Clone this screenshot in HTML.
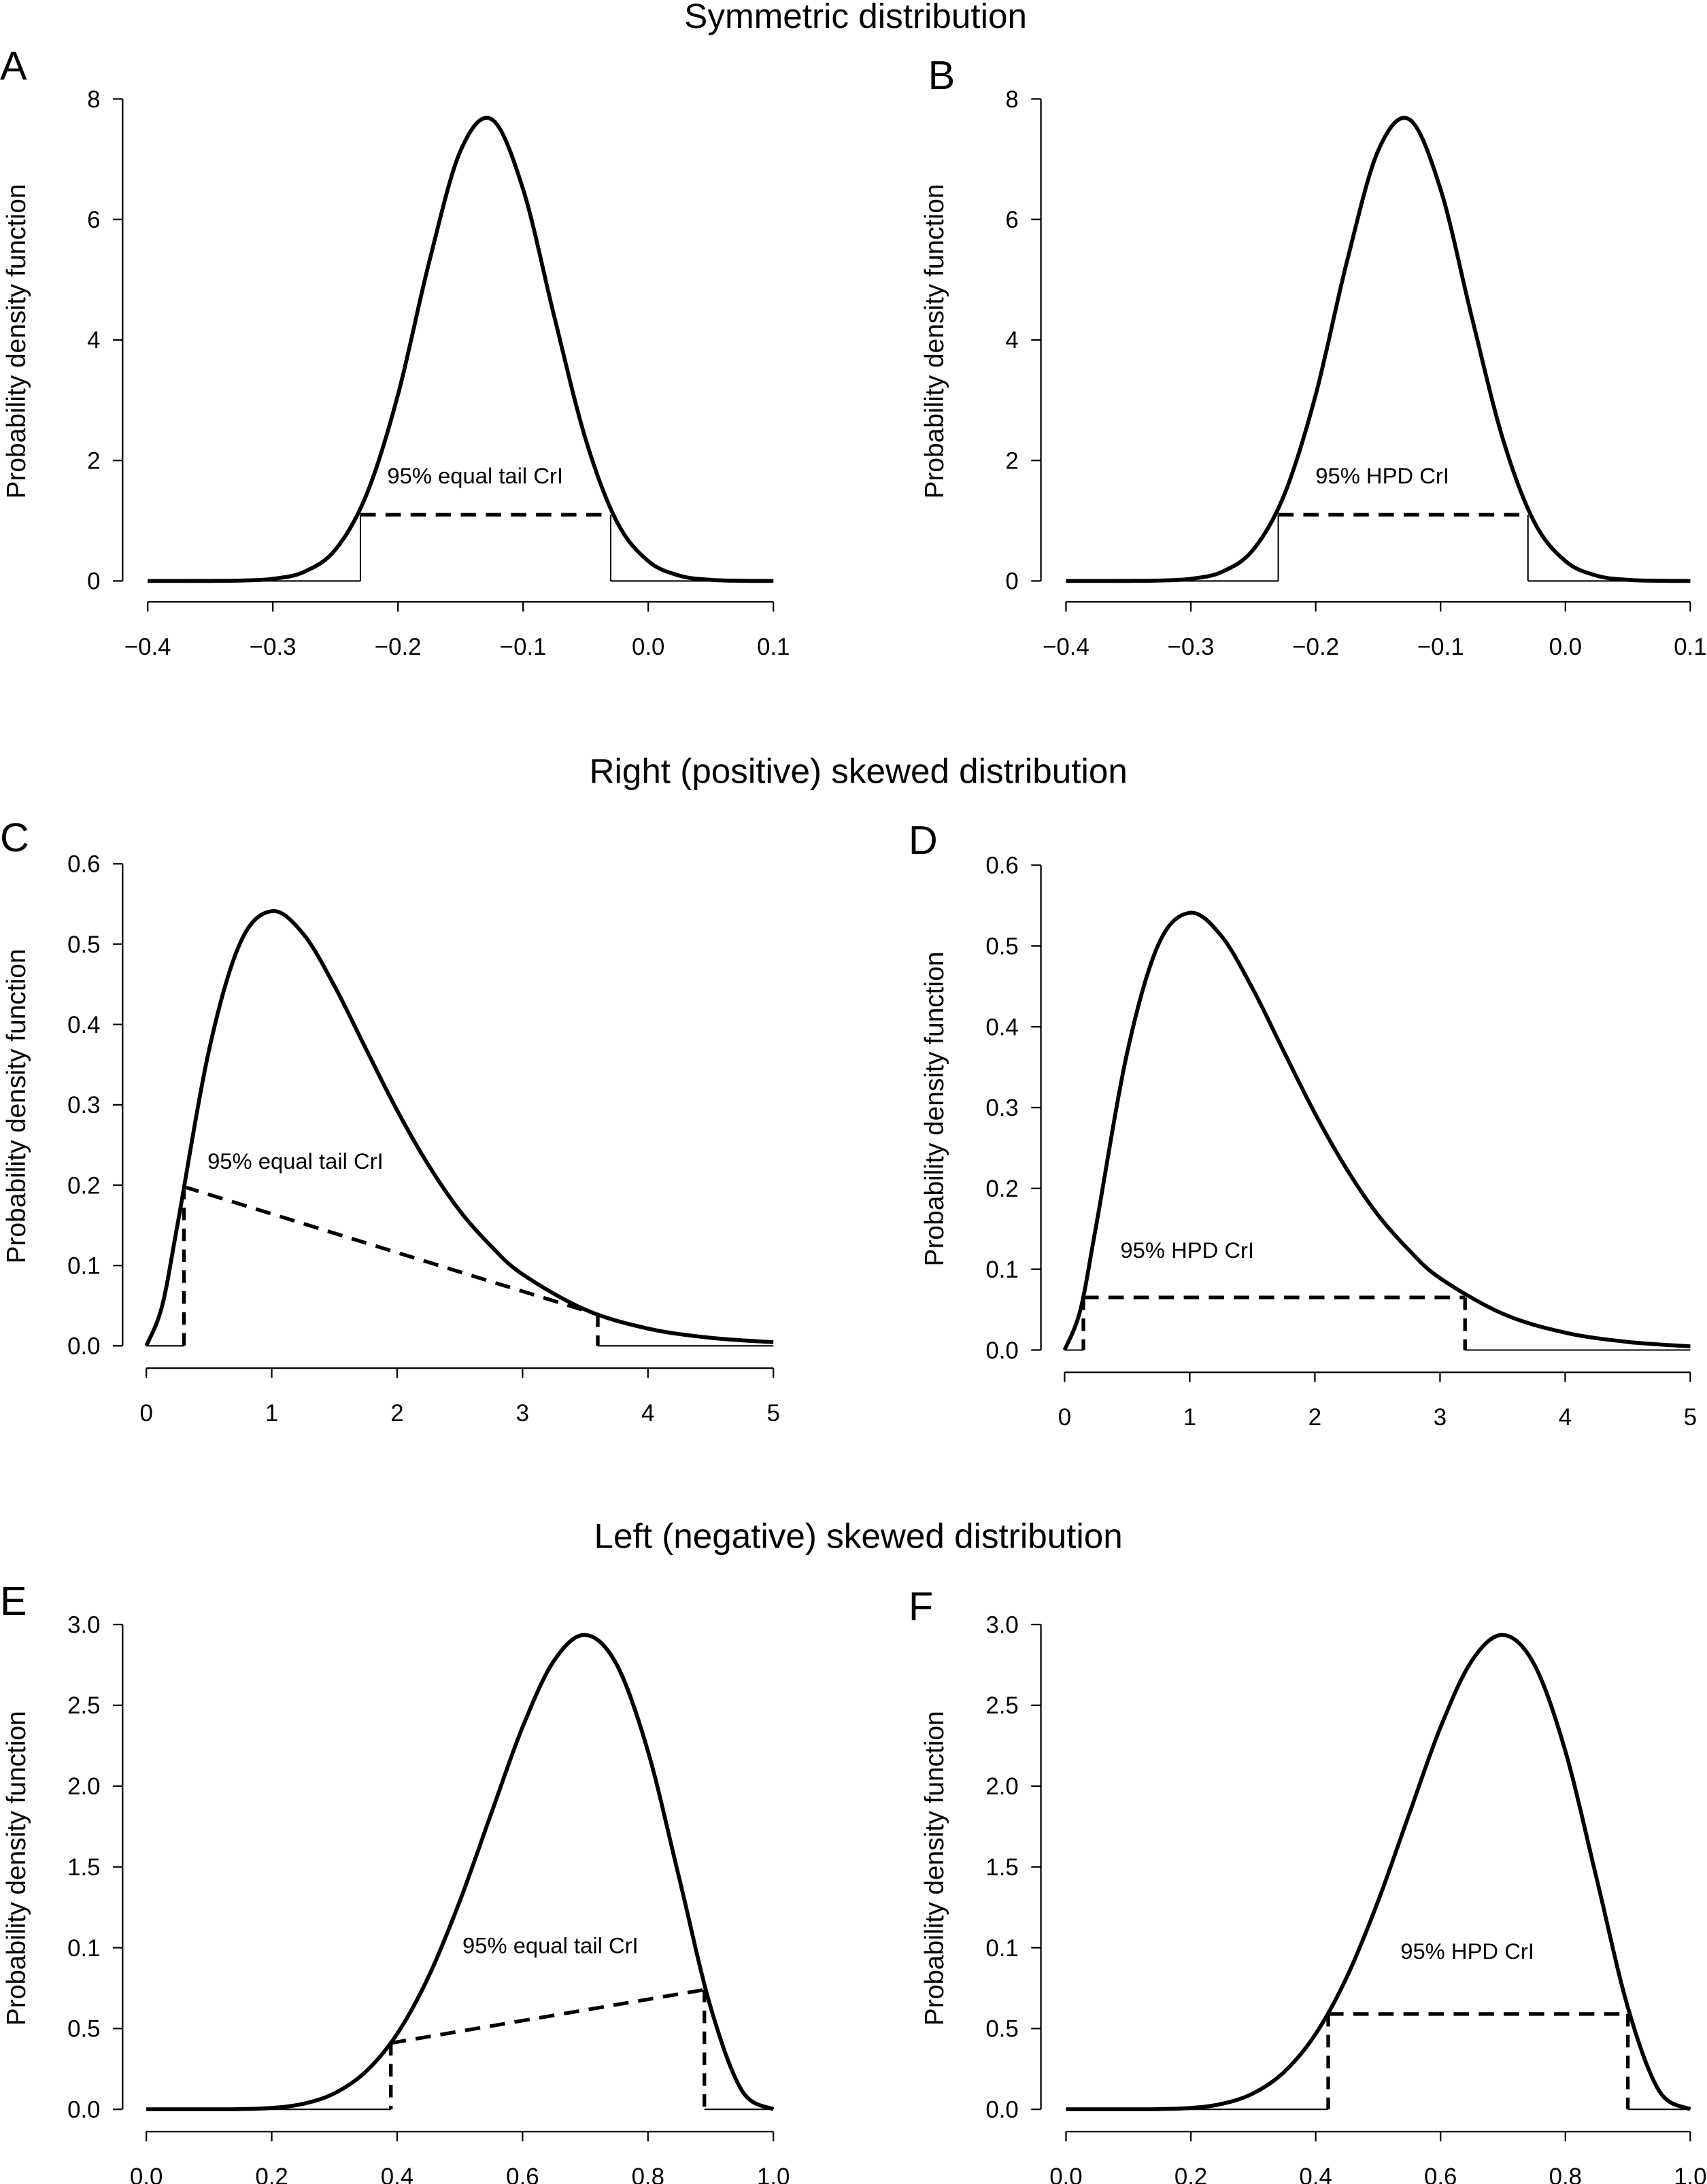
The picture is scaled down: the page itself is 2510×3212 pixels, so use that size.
<!DOCTYPE html>
<html><head><meta charset="utf-8"><style>
html,body{margin:0;padding:0;background:#fff}
svg{display:block}
text{font-family:"Liberation Sans",Arial,sans-serif;fill:#000}
</style></head><body>
<svg id="fig" width="2510" height="3212" viewBox="0 0 1225 1567.6" xmlns="http://www.w3.org/2000/svg">
<text x="614" y="20" font-size="25" text-anchor="middle">Symmetric distribution</text>
<text x="616" y="562" font-size="25" text-anchor="middle">Right (positive) skewed distribution</text>
<text x="616" y="1111" font-size="25" text-anchor="middle">Left (negative) skewed distribution</text>
</svg>
<script>
// ---- data ----
const symX = [-0.4,-0.375,-0.35,-0.325,-0.3,-0.275,-0.25,-0.225,-0.2,-0.175,-0.15,-0.125,-0.1,-0.075,-0.05,-0.025,0,0.025,0.05,0.075,0.1];
const symY = [0,0,0.001,0.007,0.036,0.152,0.52,1.44,3.09,5.30,7.14,7.66,6.5,4.38,2.35,0.98,0.33,0.088,0.019,0.003,0];
const rightX = [0,0.125,0.25,0.5,0.75,1,1.25,1.5,1.75,2,2.25,2.5,2.75,3,3.5,4,4.5,5];
const rightY = [0,0.049,0.152,0.368,0.502,0.541,0.513,0.448,0.370,0.293,0.225,0.168,0.124,0.089,0.045,0.0215,0.010,0.0045];
const leftX = [0,0.05,0.1,0.15,0.2,0.25,0.3,0.35,0.4,0.45,0.5,0.55,0.6,0.65,0.7,0.75,0.8,0.85,0.9,0.95,1];
const leftY = [0,0,0.0001,0.0014,0.0087,0.034,0.099,0.233,0.467,0.82,1.289,1.83,2.365,2.775,2.935,2.753,2.215,1.428,0.631,0.115,0];
const symXTicks = [-0.4,-0.3,-0.2,-0.1,0.0,0.1];
const symXLabels = ["\u22120.4","\u22120.3","\u22120.2","\u22120.1","0.0","0.1"];
const symYTicks = [0,2,4,6,8];
const symYLabels = ["0","2","4","6","8"];
const rXTicks = [0,1,2,3,4,5];
const rXLabels = ["0","1","2","3","4","5"];
const rYTicks = [0,0.1,0.2,0.3,0.4,0.5,0.6];
const rYLabels = ["0.0","0.1","0.2","0.3","0.4","0.5","0.6"];
const lXTicks = [0,0.2,0.4,0.6,0.8,1.0];
const lXLabels = ["0.0","0.2","0.4","0.6","0.8","1.0"];
const lYTicks = [0,0.5,1,1.5,2,2.5,3];
const lYLabels = ["0.0","0.5","0.1","1.5","2.0","2.5","3.0"];
// intervals: [lowX, lowY, highX, highY]
const intA = [-0.23,1.1,-0.03,1.1];
const intB = [-0.23,1.1,-0.03,1.1];
const intC = [0.3,0.198,3.6,0.039];
const intD = [0.15,0.065,3.2,0.065];
const intE = [0.39,0.41,0.89,0.74];
const intF = [0.42,0.59,0.90,0.59];

const NS="http://www.w3.org/2000/svg";
const svg=document.getElementById('fig');
function mk(tag,attrs,parent){const e=document.createElementNS(NS,tag);for(const k in attrs)e.setAttribute(k,attrs[k]);(parent||svg).appendChild(e);return e;}

function panel(cfg){
  const g=mk('g',{});
  
  
  const sx=v=>cfg.px0+(v-cfg.xmin)/(cfg.xmax-cfg.xmin)*(cfg.px1-cfg.px0);
  const sy=v=>cfg.py0-(v-cfg.ymin)/(cfg.ymax-cfg.ymin)*(cfg.py0-cfg.py1);
  const L=mk('text',{x:cfg.lx,y:cfg.ly,'font-size':29},g);L.textContent=cfg.letter;
  
  
  const ya=mk('line',{x1:cfg.ax,x2:cfg.ax,y1:sy(cfg.yt[0]),y2:sy(cfg.yt[cfg.yt.length-1]),stroke:'#000','stroke-width':1.1},g);
  
  
  cfg.yt.forEach((t,i)=>{
    mk('line',{x1:cfg.ax-7,x2:cfg.ax,y1:sy(t),y2:sy(t),stroke:'#000','stroke-width':1.1},g);
    const tx=mk('text',{x:cfg.ax-16,y:sy(t)+6,'font-size':17,'text-anchor':'end'},g);
    tx.textContent=cfg.yl[i];
    
    
  });
  const yt=mk('text',{x:0,y:0,'font-size':19,'text-anchor':'middle',transform:`translate(${cfg.ax-70},${(cfg.py0+cfg.py1)/2+1}) rotate(-90)`},g);
  yt.textContent='Probability density function';
  
  
  const xa=mk('line',{x1:sx(cfg.xt[0]),x2:sx(cfg.xt[cfg.xt.length-1]),y1:cfg.ay,y2:cfg.ay,stroke:'#000','stroke-width':1.1},g);
  
  
  cfg.xt.forEach((t,i)=>{
    mk('line',{x1:sx(t),x2:sx(t),y1:cfg.ay,y2:cfg.ay+7,stroke:'#000','stroke-width':1.1},g);
    const tx=mk('text',{x:sx(t),y:cfg.ay+38,'font-size':17,'text-anchor':'middle'},g);
    tx.textContent=cfg.xl[i];
    
    
  });
  const iv=cfg.iv;
  mk('path',{d:`M${sx(cfg.xmin)},${sy(0)}H${sx(iv[0])}M${sx(iv[2])},${sy(0)}H${sx(cfg.xmax)}`,stroke:'#000','stroke-width':1,fill:'none'},g);
  const dashV=cfg.dashV;
  const vAttrs={stroke:'#000','stroke-width':dashV?2.6:1,fill:'none'};
  if(dashV) vAttrs['stroke-dasharray']='9,6';
  mk('line',Object.assign({x1:sx(iv[0]),x2:sx(iv[0]),y1:sy(iv[1]),y2:sy(0)},vAttrs),g);
  mk('line',Object.assign({x1:sx(iv[2]),x2:sx(iv[2]),y1:sy(iv[3]),y2:sy(0)},vAttrs),g);
  const dl=mk('line',{x1:sx(iv[0]),y1:sy(iv[1]),x2:sx(iv[2]),y2:sy(iv[3]),stroke:'#000','stroke-width':2.6,'stroke-dasharray':'11,7'},g);
  
  
  const lt=mk('text',{x:cfg.tx,y:cfg.ty,'font-size':16,'text-anchor':'middle'},g);
  lt.textContent=cfg.label;
  
  
  const P=cfg.X.map((x,i)=>[sx(x),sy(cfg.Y[i])]);
  let d=`M${P[0][0]},${P[0][1]}`;
  for(let i=0;i<P.length-1;i++){
    const p0=P[Math.max(i-1,0)],p1=P[i],p2=P[i+1],p3=P[Math.min(i+2,P.length-1)];
    const c1=[p1[0]+(p2[0]-p0[0])/6,p1[1]+(p2[1]-p0[1])/6];
    const c2=[p2[0]-(p3[0]-p1[0])/6,p2[1]-(p3[1]-p1[1])/6];
    d+=`C${c1[0]},${c1[1]} ${c2[0]},${c2[1]} ${p2[0]},${p2[1]}`;
  }
  const c=mk('path',{d:d,stroke:'#000','stroke-width':2.8,fill:'none','stroke-linejoin':'round'},g);
  
  
}

panel({letter:'A',lx:0,ly:57,X:symX,Y:symY,xmin:-0.4,xmax:0.1,ymin:0,ymax:8,px0:106,px1:555,py0:417,py1:71,ax:88,ay:432,xt:symXTicks,xl:symXLabels,yt:symYTicks,yl:symYLabels,iv:intA,dashV:false,label:'95% equal tail CrI',tx:341,ty:347});
panel({letter:'B',lx:666,ly:64,X:symX,Y:symY,xmin:-0.4,xmax:0.1,ymin:0,ymax:8,px0:765,px1:1213,py0:417,py1:71,ax:747,ay:432,xt:symXTicks,xl:symXLabels,yt:symYTicks,yl:symYLabels,iv:intB,dashV:false,label:'95% HPD CrI',tx:992,ty:347});
panel({letter:'C',lx:0,ly:611,X:rightX,Y:rightY,xmin:0,xmax:5,ymin:0,ymax:0.6,px0:105,px1:555,py0:966,py1:620,ax:88,ay:982,xt:rXTicks,xl:rXLabels,yt:rYTicks,yl:rYLabels,iv:intC,dashV:true,label:'95% equal tail CrI',tx:212,ty:839});
panel({letter:'D',lx:652,ly:613,X:rightX,Y:rightY,xmin:0,xmax:5,ymin:0,ymax:0.6,px0:764,px1:1213,py0:969,py1:621,ax:747,ay:985,xt:rXTicks,xl:rXLabels,yt:rYTicks,yl:rYLabels,iv:intD,dashV:true,label:'95% HPD CrI',tx:852,ty:903});
panel({letter:'E',lx:0,ly:1159,X:leftX,Y:leftY,xmin:0,xmax:1,ymin:0,ymax:3,px0:105,px1:555,py0:1514,py1:1166,ax:88,ay:1530,xt:lXTicks,xl:lXLabels,yt:lYTicks,yl:lYLabels,iv:intE,dashV:true,label:'95% equal tail CrI',tx:395,ty:1402});
panel({letter:'F',lx:652,ly:1163,X:leftX,Y:leftY,xmin:0,xmax:1,ymin:0,ymax:3,px0:765,px1:1213,py0:1514,py1:1166,ax:747,ay:1530,xt:lXTicks,xl:lXLabels,yt:lYTicks,yl:lYLabels,iv:intF,dashV:true,label:'95% HPD CrI',tx:1053,ty:1406});
</script>
</body></html>
